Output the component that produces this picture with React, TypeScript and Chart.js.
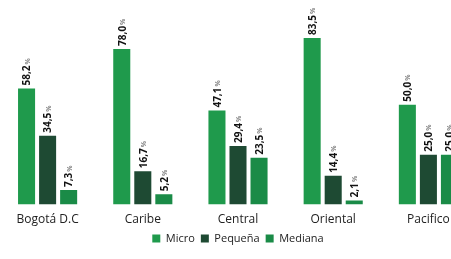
import React, { useEffect, useRef } from "react";
import { Chart, registerables } from "chart.js";

Chart.register(...registerables);

const categories = ["Bogotá D.C", "Caribe", "Central", "Oriental", "Pacifico"];
const micro = [58.2, 78.0, 47.1, 83.5, 50.0];
const pequena = [34.5, 16.7, 29.4, 14.4, 25.0];
const mediana = [7.3, 5.2, 23.5, 2.1, 25.0];
const seriesNames = ["Micro", "Pequeña", "Mediana"];
const seriesColors = ["#1f9a4c", "#1e4a33", "#1a8b47"];

const labelPlugin = {
  id: "valueLabels",
  afterDatasetsDraw(chart: any) {
    const ctx = chart.ctx;
    chart.data.datasets.forEach((ds: any, di: number) => {
      const meta = chart.getDatasetMeta(di);
      meta.data.forEach((bar: any, i: number) => {
        const v = ds.data[i] as number;
        const txt = v.toFixed(1).replace(".", ",");
        ctx.save();
        ctx.translate(bar.x + 1, bar.y - 3);
        ctx.rotate(-Math.PI / 2);
        ctx.textAlign = "left";
        ctx.textBaseline = "middle";
        ctx.font = "bold 10px 'Open Sans'";
        ctx.fillStyle = "#111";
        ctx.fillText(txt, 0, 0);
        const w = ctx.measureText(txt).width;
        ctx.font = "bold 7px 'Open Sans'";
        ctx.fillStyle = "#888";
        ctx.fillText("%", w + 1, 0);
        ctx.restore();
      });
    });
  },
};

export default function App() {
  const ref = useRef<HTMLCanvasElement>(null);
  useEffect(() => {
    if (!ref.current) return;
    const chart = new Chart(ref.current, {
      type: "bar",
      data: {
        labels: categories,
        datasets: [micro, pequena, mediana].map((d, i) => ({
          label: seriesNames[i],
          data: d,
          backgroundColor: seriesColors[i],
          categoryPercentage: 0.663,
          barPercentage: 0.81,
        })),
      },
      options: {
        responsive: false,
        animation: false,
        layout: { padding: { top: 5, left: 0, right: 0, bottom: 5 } },
        plugins: {
          legend: {
            position: "bottom",
            labels: {
              boxWidth: 8,
              boxHeight: 8,
              padding: 6,
              color: "#222",
              font: { family: "'Open Sans'", size: 11 },
            },
          },
          tooltip: { enabled: false },
        },
        scales: {
          y: { display: false, min: 0, max: 100 },
          x: {
            grid: { display: false },
            border: { display: false },
            ticks: { color: "#222", font: { family: "'Open Sans'", size: 12 }, padding: 0 },
          },
        },
      },
      plugins: [labelPlugin],
    });
    return () => chart.destroy();
  }, []);
  return (
    <div style={{ position: "absolute", left: 0, top: 0, width: 451, height: 259, overflow: "hidden", background: "#fff" }}>
      <canvas ref={ref} width={476} height={259} style={{ display: "block" }} />
    </div>
  );
}
